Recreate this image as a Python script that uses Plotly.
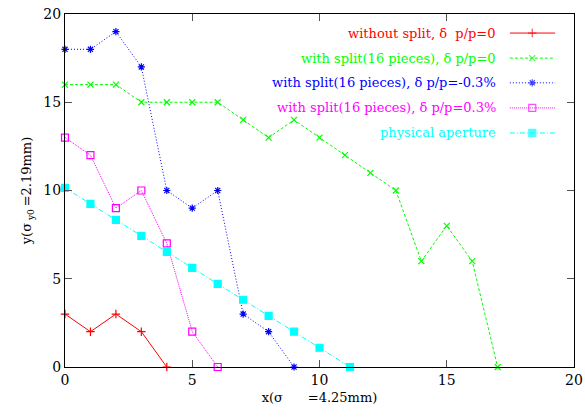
import plotly.graph_objects as go

# ---- data ----
red_x = [0, 1, 2, 3, 4]
red_y = [3, 2, 3, 2, 0]

green_x = list(range(0, 18))
green_y = [16, 16, 16, 15, 15, 15, 15, 14, 13, 14, 13, 12, 11, 10, 6, 8, 6, 0]

blue_x = list(range(0, 10))
blue_y = [18, 18, 19, 17, 10, 9, 10, 3, 2, 0]

mag_x = [0, 1, 2, 3, 4, 5, 6]
mag_y = [13, 12, 9, 10, 7, 2, 0]

cyan_x = [0, 1, 2, 3, 4, 5, 6, 7, 8, 9, 10, 11.2]
cyan_y = [10.15, 9.24, 8.34, 7.43, 6.52, 5.62, 4.71, 3.81, 2.9, 2.0, 1.09, 0]

labels = [
    "without split, δ  p/p=0",
    "with split(16 pieces), δ p/p=0",
    "with split(16 pieces), δ p/p=-0.3%",
    "with split(16 pieces), δ p/p=0.3%",
    "physical aperture",
]
colors = ["#ff0000", "#00ff00", "#0000ff", "#ff00ff", "#00ffff"]
dashes = ["solid", "3px,2px", "1px,2px", "1px,1px", "5px,2px,1px,2px"]
symbols = ["cross-thin-open", "x-thin-open", "asterisk-open", "square-open", "square"]
msizes = [6, 6, 6, 7, 7]

series = [(red_x, red_y), (green_x, green_y), (blue_x, blue_y), (mag_x, mag_y), (cyan_x, cyan_y)]

FONT = "DejaVu Serif"

fig = go.Figure()
for (xs, ys), c, d, s, ms in zip(series, colors, dashes, symbols, msizes):
    fig.add_trace(go.Scatter(
        x=xs, y=ys, mode="lines+markers",
        line=dict(color=c, width=1, dash=d),
        marker=dict(symbol=s, size=ms, color=c, line=dict(color=c, width=1.2)),
        showlegend=False, cliponaxis=False,
    ))

# custom legend (text right, sample on right) on overlay axes
row_y = [0.946, 0.875, 0.805, 0.734, 0.663]
for lab, c, d, s, ms, ry in zip(labels, colors, dashes, symbols, msizes, row_y):
    fig.add_trace(go.Scatter(
        x=[0.874, 0.918, 0.963], y=[ry, ry, ry], mode="lines+markers",
        line=dict(color=c, width=1, dash=d),
        marker=dict(symbol=s, size=[0, ms, 0], color=c, line=dict(color=c, width=1.2)),
        xaxis="x2", yaxis="y2", showlegend=False, hoverinfo="skip",
    ))
    fig.add_annotation(
        x=0.851, y=ry, xref="x2", yref="y2", text=lab, showarrow=False,
        xanchor="right", yanchor="middle", font=dict(family=FONT, size=13, color=c),
    )

axis_common = dict(
    showgrid=False, zeroline=False, showline=True, linecolor="black", linewidth=1,
    ticks="inside", ticklen=7, tickcolor="#555555", mirror="allticks",
    tickfont=dict(family=FONT, size=14, color="black"), automargin=False,
)

fig.update_layout(
    width=585, height=420,
    margin=dict(l=65, r=11, t=14, b=53, autoexpand=False),
    paper_bgcolor="white", plot_bgcolor="white",
    font=dict(family=FONT),
    xaxis=dict(range=[0, 20], tickvals=[0, 5, 10, 15, 20],
               title=dict(text="x(σ\u00a0\u00a0\u00a0\u00a0\u00a0\u00a0=4.25mm)",
                          font=dict(family=FONT, size=13, color="black"), standoff=6),
               **axis_common),
    yaxis=dict(range=[0, 20], tickvals=[0, 5, 10, 15, 20],
               title=dict(text="y(σ<sub>\u00a0y0\u00a0</sub>=2.19mm)",
                          font=dict(family=FONT, size=13, color="black"), standoff=8),
               **axis_common),
    xaxis2=dict(range=[0, 1], overlaying="x", visible=False, fixedrange=True),
    yaxis2=dict(range=[0, 1], overlaying="y", visible=False, fixedrange=True),
)

fig.write_html("out.html")
